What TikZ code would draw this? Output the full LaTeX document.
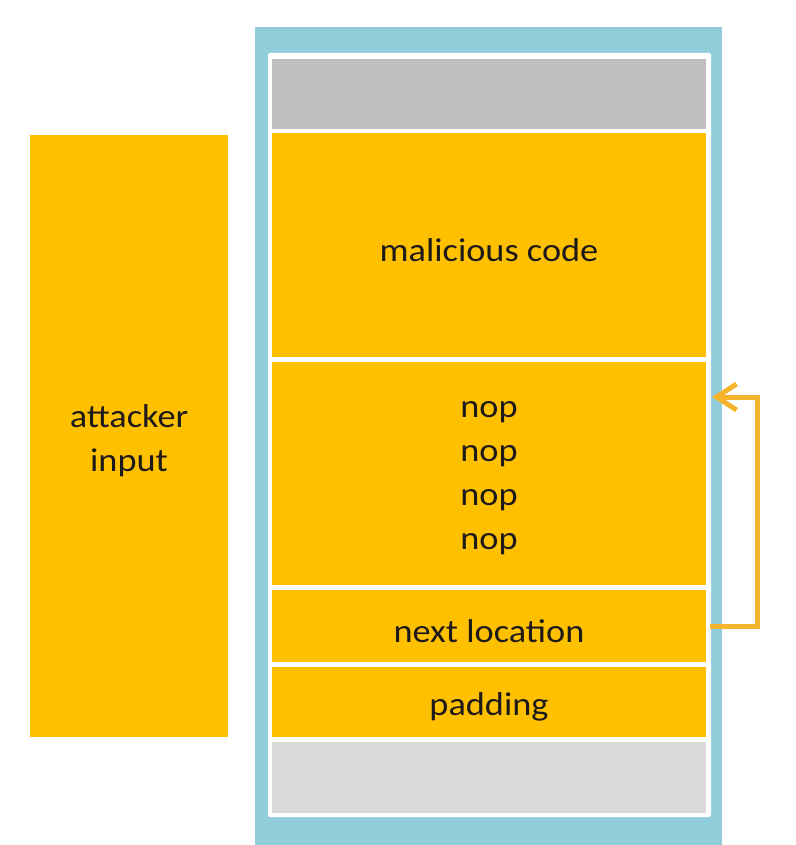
\documentclass[tikz,border=0pt]{standalone}
\usepackage{fontspec}
\setmainfont{Carlito}[FakeStretch=1.1]
\usetikzlibrary{arrows.meta}
\definecolor{orng}{HTML}{FFC000}
\definecolor{arrc}{HTML}{F6B42C}
\definecolor{gray1}{HTML}{BFBFBF}
\definecolor{gray2}{HTML}{D9D9D9}
\definecolor{blu}{HTML}{92CDDC}
\definecolor{txt}{HTML}{1E1A1A}
\tikzset{
  blk/.style={rectangle, inner sep=0pt, outer sep=0pt, fill=orng, minimum width=434pt},
  lbl/.style={text=txt, align=center, inner sep=0pt, yshift=-5pt, font=\fontsize{33}{44}\selectfont},
  gblk/.style={rectangle, inner sep=0pt, outer sep=0pt, minimum width=434pt},
  arr/.style={draw=arrc, line width=5pt, -{Straight Barb[length=20pt,width=26pt]}}
}
\begin{document}
\begin{tikzpicture}[x=1pt,y=-1pt]
\useasboundingbox (0,0) rectangle (795,845);
\node[rectangle, fill=blu, inner sep=0pt, minimum width=467pt, minimum height=818pt] (outer) at (488.5,436) {};
\node[rectangle, fill=white, rounded corners=2pt, inner sep=0pt, minimum width=443pt, minimum height=764pt] (inner) at (489.5,435) {};
\node[gblk, fill=gray1, minimum height=70pt] (g1) at (489,94) {};
\node[blk, minimum height=224pt, label={[lbl]center:malicious code}] (mal) at (489,245) {};
\node[blk, minimum height=223pt, label={[lbl]center:{nop\\nop\\nop\\nop}}] (nop) at (489,473.5) {};
\node[blk, minimum height=72pt, label={[lbl]center:next location}] (next) at (489,626) {};
\node[blk, minimum height=70pt, label={[lbl]center:padding}] (pad) at (489,702) {};
\node[gblk, fill=gray2, minimum height=71pt] (g2) at (489,777.5) {};
\node[blk, minimum width=198pt, minimum height=602pt, label={[lbl]center:{attacker\\input}}] (att) at (129,436) {};
\draw[arr] ([xshift=4pt]next.east) -- ++(47,0) |- ([xshift=6pt,yshift=76.5pt]nop.east);
\end{tikzpicture}
\end{document}
